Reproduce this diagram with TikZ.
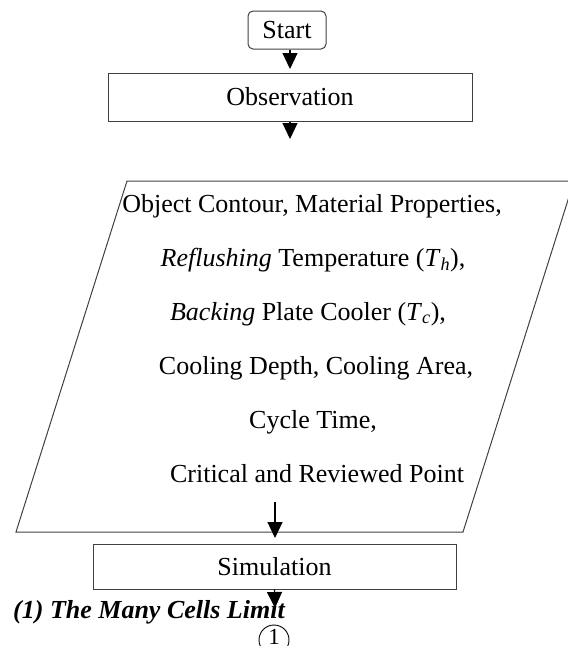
\documentclass[tikz,border=0pt]{standalone}
\usepackage{fontspec}
\setmainfont{Liberation Serif}
\usetikzlibrary{arrows.meta}
\tikzset{
  boxline/.style={draw=black!75, line width=1pt},
  flowbox/.style={boxline, minimum height=48pt, inner sep=0pt},
  txt/.style={font=\fontsize{26}{30}\selectfont, inner sep=0pt},
  flowarrow/.style={line width=1.2pt, -{Triangle[width=15pt,length=16pt]}},
}
\begin{document}
\begin{tikzpicture}[x=1pt,y=-1pt]
\useasboundingbox (0,0) rectangle (568,646);
\clip (0,0) rectangle (568,646);
% Start
\node[boxline, rounded corners=5pt, minimum width=78pt, minimum height=38pt, inner sep=0pt, txt] (start) at (287,30) {Start};
% Observation
\node[flowbox, minimum width=364pt, txt] (obs) at (290,97) {Observation};
% Parallelogram
\coordinate (p1) at (127,181);
\coordinate (p2) at (574,181);
\coordinate (p3) at (463,532);
\coordinate (p4) at (16,532);
\draw[boxline] (p1) -- (p2) -- (p3) -- (p4) -- cycle;
\node[txt, anchor=base] (l1) at (312,212) {Object Contour, Material Properties,};
\node[txt, anchor=base] (l2) at (313,266) {\textit{Reflushing} Temperature (\textit{T}\textsubscript{\textit{h}}),};
\node[txt, anchor=base] (l3) at (308,320) {\textit{Backing} Plate Cooler (\textit{T}\textsubscript{\textit{c}}),};
\node[txt, anchor=base] (l4) at (316,374) {Cooling Depth, Cooling Area,};
\node[txt, anchor=base] (l5) at (313,428) {Cycle Time,};
\node[txt, anchor=base] (l6) at (317,482) {Critical and Reviewed Point};
% Simulation
\node[boxline, minimum width=363pt, minimum height=45pt, inner sep=0pt, txt] (sim) at (274.5,566.5) {Simulation};
% label
\node[anchor=base west, inner sep=0pt, font=\fontsize{26}{30}\selectfont\bfseries\itshape] (lbl) at (13,618) {(1) The Many Cells Limit};
% connector circle
\node[circle, draw=black, line width=0.9pt, minimum size=30pt, inner sep=0pt] (c1) at (274,640) {};
\node[anchor=base, inner sep=0pt, font=\fontsize{23}{26}\selectfont] (c1t) at (c1.center |- 0,644.5) {1};
% arrows
\coordinate (a2end) at (290,139);
\coordinate (a3start) at (275,502);
\coordinate (a3end) at (275,538);
\coordinate (a4end) at (275,608);
\draw[flowarrow] (start.south -| 290,0) -- (290,69);
\draw[flowarrow] (obs.south) -- (a2end);
\draw[flowarrow] (a3start) -- (a3end);
\draw[flowarrow] (sim.south) -- (a4end);
\end{tikzpicture}
\end{document}
